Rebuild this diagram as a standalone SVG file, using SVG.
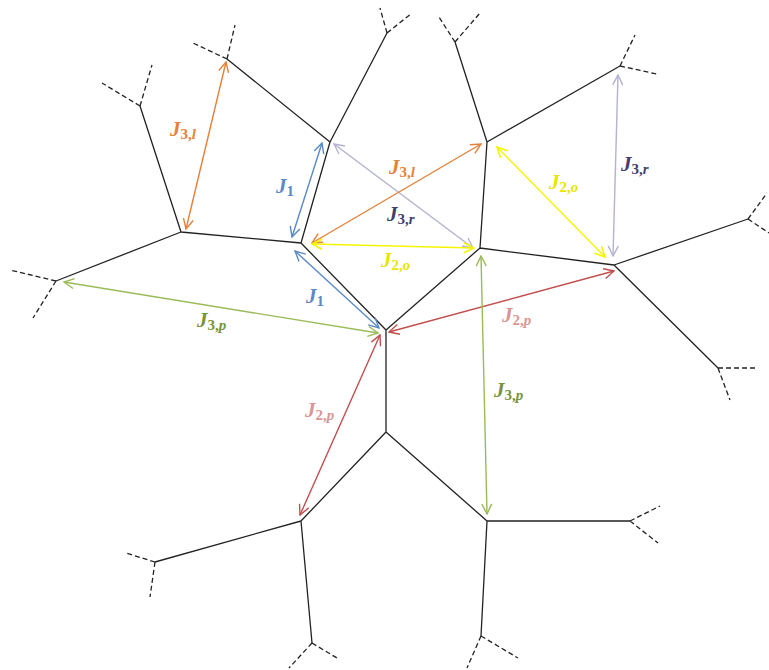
<svg xmlns="http://www.w3.org/2000/svg" width="769" height="670" viewBox="0 0 769 670">
<style>
.e{stroke:#222;stroke-width:1.3;fill:none}
.d{stroke:#222;stroke-width:1.3;fill:none;stroke-dasharray:5,3}
.a{fill:none;stroke-width:1.4}
.lab{font-family:"Liberation Serif",serif;font-style:italic;font-weight:bold;font-size:21px}
.sub{font-size:15px;font-style:normal}
.si{font-style:italic}
</style>
<defs>
<marker id="mo" viewBox="0 0 12 12" refX="11" refY="6" markerWidth="12" markerHeight="12" markerUnits="userSpaceOnUse" orient="auto-start-reverse"><path d="M1,1 L11,6 L1,11" fill="none" stroke="#E5813A" stroke-width="1.4"/></marker>
<marker id="mb" viewBox="0 0 12 12" refX="11" refY="6" markerWidth="12" markerHeight="12" markerUnits="userSpaceOnUse" orient="auto-start-reverse"><path d="M1,1 L11,6 L1,11" fill="none" stroke="#5A8AC6" stroke-width="1.4"/></marker>
<marker id="mg" viewBox="0 0 12 12" refX="11" refY="6" markerWidth="12" markerHeight="12" markerUnits="userSpaceOnUse" orient="auto-start-reverse"><path d="M1,1 L11,6 L1,11" fill="none" stroke="#9BBB59" stroke-width="1.4"/></marker>
<marker id="ml" viewBox="0 0 12 12" refX="11" refY="6" markerWidth="12" markerHeight="12" markerUnits="userSpaceOnUse" orient="auto-start-reverse"><path d="M1,1 L11,6 L1,11" fill="none" stroke="#B3B3D1" stroke-width="1.4"/></marker>
<marker id="my" viewBox="0 0 12 12" refX="11" refY="6" markerWidth="12" markerHeight="12" markerUnits="userSpaceOnUse" orient="auto-start-reverse"><path d="M1,1 L11,6 L1,11" fill="none" stroke="#F5F500" stroke-width="1.6"/></marker>
<marker id="mr" viewBox="0 0 12 12" refX="11" refY="6" markerWidth="12" markerHeight="12" markerUnits="userSpaceOnUse" orient="auto-start-reverse"><path d="M1,1 L11,6 L1,11" fill="none" stroke="#C0504D" stroke-width="1.4"/></marker>
</defs>
<rect width="769" height="670" fill="#fff"/>

<g id="lattice">
<path class="e" d="M330,142 L301,243 M330,142 L227,59 M330,142 L387,33 M301,243 L181,232 M181,232 L140,106 M181,232 L56,281 M301,243 L386,330 M386,330 L480,248 M480,248 L487,142 M487,142 L455,42 M487,142 L620,66 M480,248 L614,265 M614,265 L748,219 M614,265 L718,368 M386,330 L386,432 M386,432 L301,521 M386,432 L487,521 M301,521 L155,562 M301,521 L312,643 M487,521 L630,521 M487,521 L481,636"/>
</g>
<g id="stubs">
<path class="d" d="M140,106 L102,83 M140,106 L152,65 M227,59 L193,43 M227,59 L235,25 M56,281 L10,270 M56,281 L33,318 M387,33 L380,8 M387,33 L412,13 M455,42 L439,17 M455,42 L480,13 M620,66 L635,35 M620,66 L657,74 M748,219 L767,193 M748,219 L769,233 M718,368 L758,368 M718,368 L730,400 M155,562 L126,553 M155,562 L150,597 M312,643 L289,668 M312,643 L337,658 M481,636 L467,668 M481,636 L518,658 M630,521 L660,506 M630,521 L658,543"/>
</g>

<g id="connectors">
<line class="a" x1="226" y1="62" x2="186" y2="229" stroke="#E5813A" marker-start="url(#mo)" marker-end="url(#mo)"/>
<line class="a" x1="322" y1="143" x2="292" y2="237" stroke="#5A8AC6" marker-start="url(#mb)" marker-end="url(#mb)"/>
<line class="a" x1="295" y1="251" x2="379" y2="328" stroke="#5A8AC6" marker-start="url(#mb)" marker-end="url(#mb)"/>
<line class="a" x1="64" y1="282" x2="378" y2="333" stroke="#9BBB59" marker-start="url(#mg)" marker-end="url(#mg)"/>
<line class="a" x1="334" y1="144" x2="473" y2="248" stroke="#B3B3D1" marker-start="url(#ml)" marker-end="url(#ml)"/>
<line class="a" x1="312" y1="243" x2="481" y2="144" stroke="#E5813A" marker-start="url(#mo)" marker-end="url(#mo)"/>
<line class="a" x1="312" y1="244" x2="474" y2="248" stroke="#F5F500" stroke-width="1.6" marker-start="url(#my)" marker-end="url(#my)"/>
<line class="a" x1="497" y1="147" x2="605" y2="257" stroke="#F5F500" stroke-width="1.6" marker-start="url(#my)" marker-end="url(#my)"/>
<line class="a" x1="618" y1="75" x2="613" y2="256" stroke="#B3B3D1" marker-start="url(#ml)" marker-end="url(#ml)"/>
<line class="a" x1="389" y1="332" x2="614" y2="271" stroke="#C0504D" marker-start="url(#mr)" marker-end="url(#mr)"/>
<line class="a" x1="481" y1="256" x2="487" y2="514" stroke="#9BBB59" marker-start="url(#mg)" marker-end="url(#mg)"/>
<line class="a" x1="380" y1="335" x2="300" y2="515" stroke="#C0504D" marker-start="url(#mr)" marker-end="url(#mr)"/>
</g>

<g id="labels" class="lab">
<text x="170" y="136" fill="#E5813A">J<tspan class="sub" dy="3">3,<tspan class="si">l</tspan></tspan></text>
<text x="276" y="193" fill="#5A8AC6">J<tspan class="sub" dy="3">1</tspan></text>
<text x="306" y="303" fill="#5A8AC6">J<tspan class="sub" dy="3">1</tspan></text>
<text x="197" y="327" fill="#77933C">J<tspan class="sub" dy="3">3,<tspan class="si">p</tspan></tspan></text>
<text x="389" y="174" fill="#E5813A">J<tspan class="sub" dy="3">3,<tspan class="si">l</tspan></tspan></text>
<text x="387" y="221" fill="#403F6F">J<tspan class="sub" dy="3">3,<tspan class="si">r</tspan></tspan></text>
<text x="381" y="267" fill="#E6E600">J<tspan class="sub" dy="3">2,<tspan class="si">o</tspan></tspan></text>
<text x="549" y="189" fill="#E6E600">J<tspan class="sub" dy="3">2,<tspan class="si">o</tspan></tspan></text>
<text x="621" y="171" fill="#403F6F">J<tspan class="sub" dy="3">3,<tspan class="si">r</tspan></tspan></text>
<text x="502" y="322" fill="#D99694">J<tspan class="sub" dy="3">2,<tspan class="si">p</tspan></tspan></text>
<text x="305" y="417" fill="#D99694">J<tspan class="sub" dy="3">2,<tspan class="si">p</tspan></tspan></text>
<text x="494" y="397" fill="#77933C">J<tspan class="sub" dy="3">3,<tspan class="si">p</tspan></tspan></text>
</g>
</svg>
